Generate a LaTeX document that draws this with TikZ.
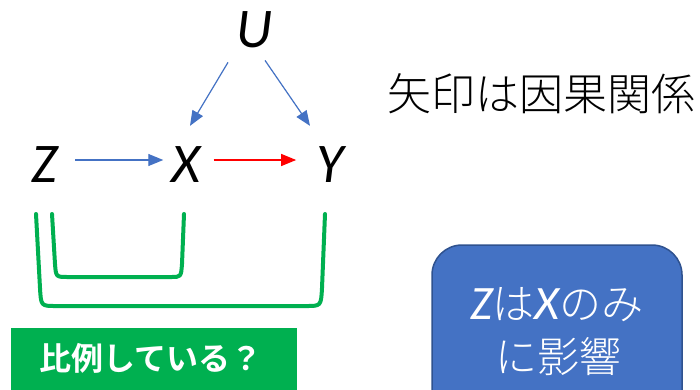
\documentclass[tikz,border=0pt]{standalone}
\usepackage{fontspec}
\usetikzlibrary{arrows.meta}
\newfontfamily\cjk[BoldFont={Noto Sans CJK JP Bold}]{Noto Sans CJK JP}
\newfontfamily\cjklight{Noto Sans CJK JP Light}
\newfontfamily\calfont{Carlito}
\definecolor{cblue}{HTML}{4472C4}
\definecolor{cblueline}{HTML}{2F528F}
\definecolor{cgreen}{HTML}{00B050}
\definecolor{cred}{HTML}{FF0000}
\tikzset{
  var/.style={inner sep=0pt, font=\calfont\itshape\fontsize{56}{60}\selectfont},
  arr/.style={line width=1.2pt, -{Triangle[length=15pt,width=12pt]}},
  bracket/.style={draw=cgreen, line width=4pt, line cap=round, line join=round},
}
\begin{document}
\begin{tikzpicture}[x=1pt,y=-1pt]
\useasboundingbox (0,0) rectangle (700,389);
\clip (0,0) rectangle (700,389);
\fill[white] (0,0) rectangle (700,389);
% variables
\node[var] (U) at (254,30) {U};
\node[var] (Z) at (45,165) {Z};
\node[var] (X) at (186,165) {X};
\node[var] (Y) at (330,165) {Y};
% arrows
\draw[arr, cblue] ([shift={(-26,14)}]U.south) -- ([shift={(4,-21)}]X.north);
\draw[arr, cblue] ([shift={(11,12)}]U.south) -- ([shift={(-20,-21)}]Y.north);
\draw[arr, cblue] ([shift={(17,-5)}]Z.east) -- ([shift={(-8,-5)}]X.west);
\draw[arr, cred] ([shift={(13,-5)}]X.east) -- ([shift={(-20,-5)}]Y.west);
% brackets
\draw[bracket] (36,214) -- (40,288) .. controls (41,306) .. (56,306) -- (306,306) .. controls (321,306) .. (322,288) -- (325,214);
\draw[bracket] (52,214) -- (55,264) .. controls (56,277) .. (68,277) -- (171,277) .. controls (181,277) .. (182,264) -- (184,214);
% label box
\node[fill=cgreen, minimum width=286pt, minimum height=62pt, inner sep=0pt] (lab) at (154,359) {};
\node[text=white, inner sep=0pt, font=\cjk\bfseries\fontsize{32}{36}\selectfont] (labtext) at (151,358) {比例している？};
% caption
\node[inner sep=0pt, font=\cjklight\fontsize{44}{48}\selectfont] (cap) at (541,94) {矢印は因果関係};
% blue box
\draw[fill=cblue, draw=cblueline, line width=1.5pt, rounded corners=30pt] (432,245) rectangle (682,440);
\node[text=white, inner sep=0pt, font=\cjklight\fontsize{42}{46}\selectfont] (b1) at (557,305) {{\calfont\itshape\fontsize{48}{50}\selectfont Z}は{\calfont\itshape\fontsize{48}{50}\selectfont X}のみ};
\node[text=white, inner sep=0pt, font=\cjklight\fontsize{42}{46}\selectfont] (b2) at (558,357) {に影響};
\end{tikzpicture}
\end{document}
